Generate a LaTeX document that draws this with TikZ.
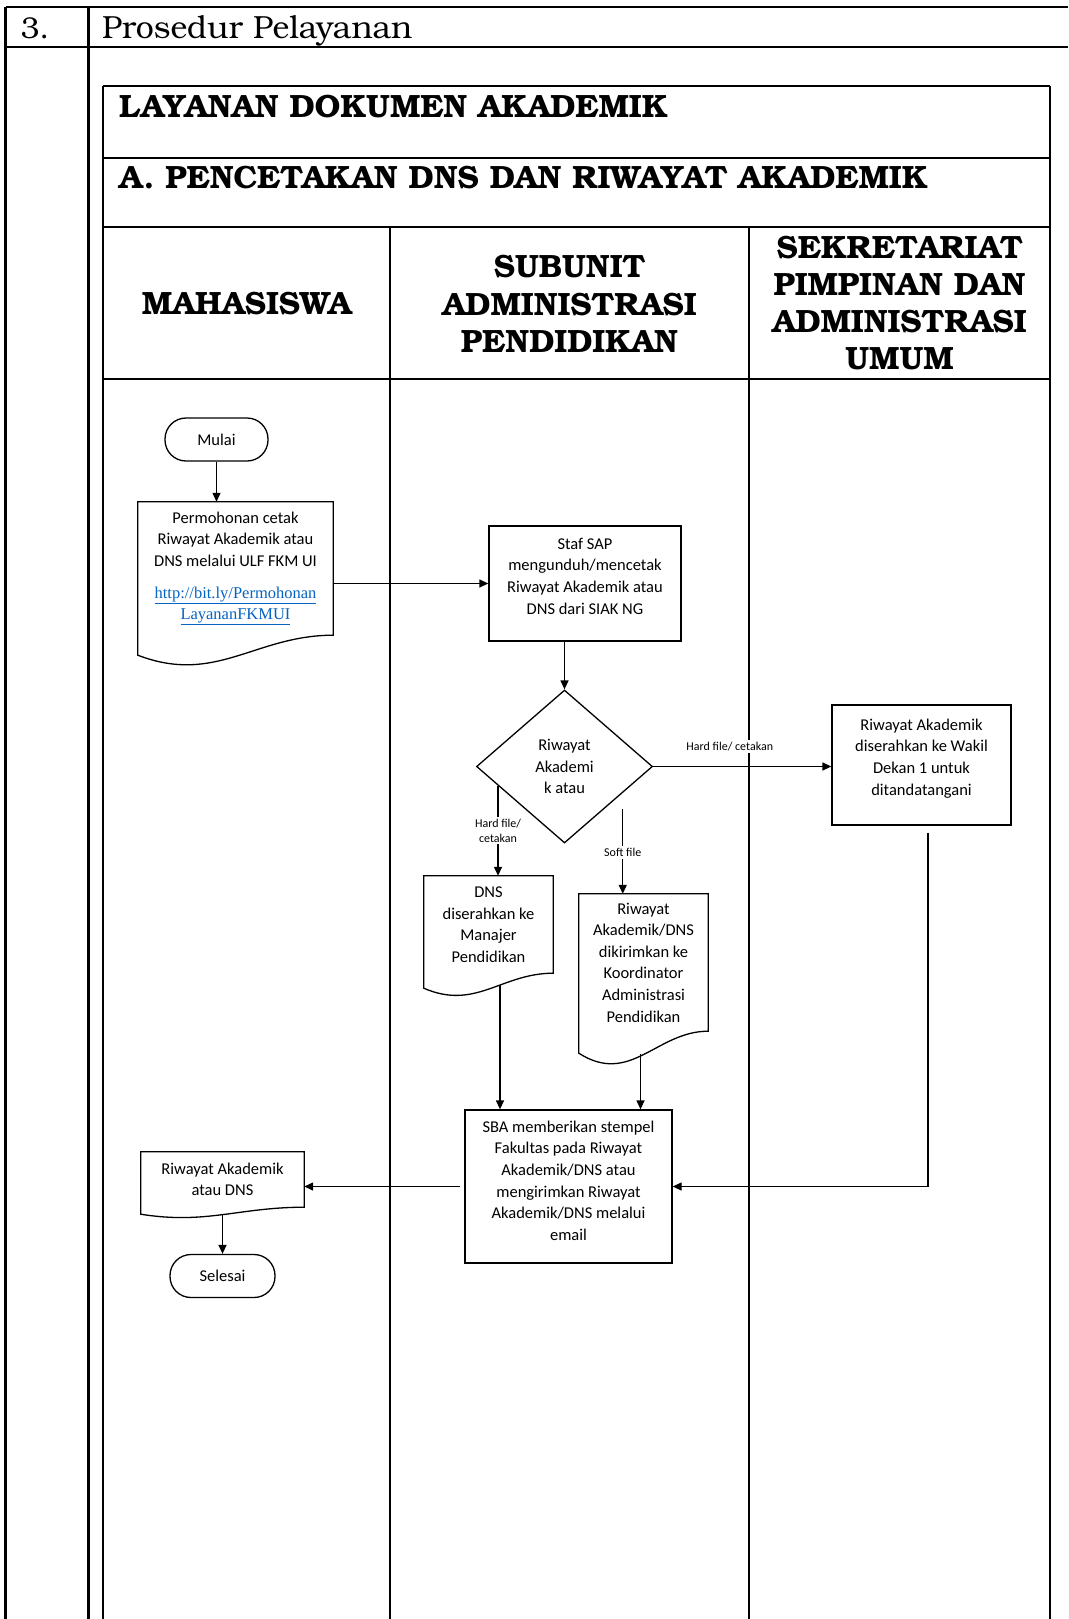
\documentclass[tikz,border=0pt]{standalone}
\usepackage{fontspec}
\setmainfont{Carlito}
\newfontfamily\lnkfont{Liberation Serif}
\IfFontExistsTF{TeX Gyre Bonum}{\newfontfamily\bonum{TeX Gyre Bonum}}{\newfontfamily\bonum{DejaVu Serif}}
\usepackage{tikz}
\usetikzlibrary{arrows.meta,calc,shapes.geometric}

\definecolor{lnkblue}{HTML}{0563C1}
\newcommand{\bkfont}{\bonum\fontsize{30}{36}\selectfont}
\newcommand{\headfont}{\bonum\fontsize{32}{38}\selectfont}
\newcommand{\ttlfont}{\bonum\bfseries\fontsize{32.2}{37.3}\selectfont}
\newcommand{\flowfont}{\fontsize{16.5}{21.6}\selectfont}
\newcommand{\lblfont}{\fontsize{12}{14.5}\selectfont}
\newcommand{\lnk}[1]{{\lnkfont\color{lnkblue}\underline{#1}}}

% document box: straight top and sides, wavy bottom (#2 = drop of left corner)
\newcommand{\docout}[2]{%
  \draw[flow] (#1.north west) -- (#1.north east) -- (#1.south east)
    .. controls ($(#1.south east)!0.4!(#1.south west)$)
    and ($(#1.south west)!0.4!(#1.south east)+(0pt,-2.5*#2pt)$)
    .. ($(#1.south west)+(0pt,-#2pt)$) -- cycle;}

\begin{document}
\begin{tikzpicture}[x=1pt, y=-1pt,
    tbl/.style={line width=2.4pt},
    flow/.style={line width=1.3pt},
    arr/.style={flow, -{Triangle[length=9pt, width=8pt]}},
    proc/.style={draw, flow, align=center, inner sep=0pt, font=\flowfont},
    term/.style={proc, rounded corners=21pt},
    docu/.style={align=center, inner sep=0pt, font=\flowfont},
    decide/.style={diamond, draw, flow, align=center, inner sep=0pt, font=\flowfont},
    lbl/.style={font=\lblfont, align=center, inner sep=2pt},
    ttl/.style={font=\ttlfont, align=center}]
  \useasboundingbox (0,0) rectangle (1068,1619);

  % outer table
  \draw[tbl] (5.5,7) -- (1068,7) (5.5,47) -- (1068,47);
  \draw[tbl] (5.5,7) -- (5.5,1619) (88.5,7) -- (88.5,1619);
  \node[font=\bkfont, anchor=base] (num) at (35,39) {3.};
  \node[font=\headfont, anchor=base west, inner sep=0pt] (proc) at (102,39) {Prosedur Pelayanan};

  % swimlane table
  \draw[tbl] (103,86) -- (1050,86) (103,158) -- (1050,158)
    (103,227) -- (1050,227) (103,379) -- (1050,379);
  \draw[tbl] (103,86) -- (103,1619) (1050,86) -- (1050,1619)
    (390,227) -- (390,1619) (749,227) -- (749,1619);
  \node[ttl, anchor=base west, inner sep=0pt] (title) at (119,117) {LAYANAN DOKUMEN AKADEMIK};
  \node[ttl, anchor=base west, inner sep=0pt] (subtitle) at (119,188) {A. PENCETAKAN DNS DAN RIWAYAT AKADEMIK};
  \node[ttl] (lane1) at (246.5,304) {MAHASISWA};
  \node[ttl] (lane2) at (569.5,304) {SUBUNIT\\ADMINISTRASI\\PENDIDIKAN};
  \node[ttl] (lane3) at (899.5,303) {SEKRETARIAT\\PIMPINAN DAN\\ADMINISTRASI\\UMUM};

  % flowchart
  \node[term, minimum width=103, minimum height=43] (start) at (216.5,439.5) {Mulai};
  \node[docu, minimum width=195, minimum height=133] (req) at (235.5,568.5)
    {Permohonan cetak\\Riwayat Akademik atau\\DNS melalui ULF FKM UI\\[10pt]
     \lnk{http://bit.ly/Permohonan}\\\lnk{LayananFKMUI}};
  \docout{req}{20}
  \node[proc, minimum width=192, minimum height=115, text depth=15pt] (sap) at (585,583.5)
    {Staf SAP\\mengunduh/mencetak\\Riwayat Akademik atau\\DNS dari SIAK NG};
  \node[decide, minimum width=176, minimum height=153] (dec) at (564.5,766.5)
    {Riwayat\\Akademi\\k atau};
  \node[proc, minimum width=179, minimum height=120, text depth=16pt] (wd) at (921.5,765)
    {Riwayat Akademik\\diserahkan ke Wakil\\Dekan 1 untuk\\ditandatangani};
  \node[docu, minimum width=129, minimum height=97] (dns) at (488.5,924.5)
    {DNS\\diserahkan ke\\Manajer\\Pendidikan};
  \docout{dns}{15}
  \node[docu, minimum width=129, minimum height=137] (soft) at (643.5,962.5)
    {Riwayat\\Akademik/DNS\\dikirimkan ke\\Koordinator\\Administrasi\\Pendidikan};
  \docout{soft}{22}
  \node[proc, minimum width=207, minimum height=153, text depth=12pt] (sba) at (568.5,1186.5)
    {SBA memberikan stempel\\Fakultas pada Riwayat\\Akademik/DNS atau\\mengirimkan Riwayat\\Akademik/DNS melalui\\email};
  \node[docu, minimum width=163, minimum height=55] (out) at (222.5,1179.5)
    {Riwayat Akademik\\atau DNS};
  \docout{out}{7}
  \node[term, minimum width=105, minimum height=43] (stop) at (222.5,1276) {Selesai};

  \coordinate (hardL) at ($(dec.west)!0.25!(dec.south)$);
  \coordinate (softR) at ($(dec.east)!0.343!(dec.south)$);

  % connectors
  \draw[arr] (start.south) -- (start.south |- req.north);
  \draw[arr] (req.east |- sap.west) -- (sap.west);
  \draw[arr] (dec.north |- sap.south) -- (dec.north);
  \draw[arr] (dec.east) -- (dec.east -| wd.west)
    node[lbl, fill=white, pos=0.43, above=13pt] (lhard) {Hard file/ cetakan};
  \draw[arr] (hardL) -- (hardL |- dns.north)
    node[lbl, fill=white, pos=0.5] (lhard2) {Hard file/\\cetakan};
  \draw[arr, shorten <=16pt] (softR) -- (softR |- soft.north)
    node[lbl, fill=white, pos=0.59] (lsoft) {Soft file};
  \draw[arr] ([xshift=11.5pt, yshift=-12pt]dns.south) -- ([xshift=11.5pt]dns.south |- sba.north);
  \draw[arr] ([xshift=-3pt, yshift=-23pt]soft.south) -- ([xshift=-3pt]soft.south |- sba.north);
  \draw[arr] ([xshift=6.5pt, yshift=-7pt]wd.south) |- (sba.east);
  \draw[arr] ([xshift=-4pt]sba.west) -- (out.east |- sba.west);
  \draw[arr] ([yshift=-7pt]out.south) -- (stop.north);
\end{tikzpicture}
\end{document}
